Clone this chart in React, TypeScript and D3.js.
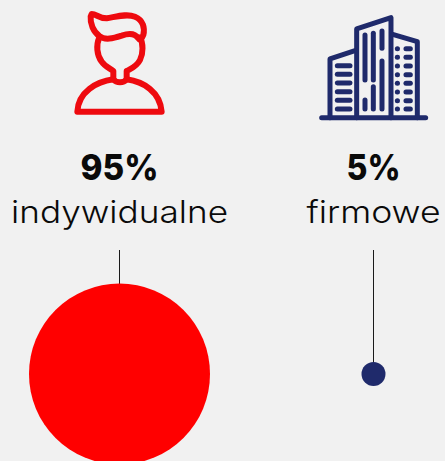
import React from 'react';
import * as d3 from 'd3';

const categories = ['indywidualne', 'firmowe'];
const shares = [95, 5];
const colors = ['#ff0000', '#1f2a6b'];
// widths of the texts in the picture, the fallback font runs narrower than the original
const labelWidths = [217, 134];
const valueWidths = [78, 54];

const width = 445;
const height = 461;
const font = 'Inter, "Noto Sans", sans-serif';

const x = d3.scalePoint<string>().domain(categories).range([119.5, 373.5]);
const r = d3.scaleLinear().domain([5, 95]).range([12, 90.5]);

const PersonIcon = () => (
  <g transform="translate(60,0) scale(0.3333)" fill="none" stroke="#ee0a0f" strokeWidth={18} strokeLinejoin="round" strokeLinecap="round">
    <path d="M95 42 C110 42 115 55 140 55 C170 50 200 40 225 50 C250 60 255 85 250 105 C245 118 240 122 235 115 C225 100 205 100 185 107 C160 115 135 122 118 108 C100 95 90 70 92 50 Z" />
    <path d="M118 112 C108 135 110 165 125 185 C135 200 150 205 160 213 L160 238 M240 112 C250 130 250 160 240 180 C230 200 215 205 200 213 L200 238" />
    <path d="M160 238 C110 245 55 275 52 335 L305 335 C300 275 250 245 200 238 C190 250 170 250 160 238 Z" />
  </g>
);

const leftFloors = [182, 208, 234, 260, 286, 312];
const rightFloors = [131, 157, 183, 209, 235, 261, 287, 312];
const windows = [
  [165, 90, 225], [165, 285, 312],
  [190, 85, 225], [190, 245, 312],
  [216, 78, 130], [216, 168, 312],
];

const BuildingIcon = () => (
  <g transform="translate(310,5) scale(0.3333)" fill="none" stroke="#1f2a6b" strokeWidth={15} strokeLinejoin="round" strokeLinecap="round">
    <path d="M35 338 L347 338" />
    <path d="M60 338 V162 L135 137" />
    <path d="M140 338 V72 L243 38 V338" />
    <path d="M248 88 L322 110 V338" />
    {leftFloors.map(y => <path key={y} d={`M82 ${y} H120`} />)}
    {windows.map(([wx, y1, y2]) => <path key={`${wx}-${y1}`} d={`M${wx} ${y1} V${y2}`} />)}
    {rightFloors.map(y => (
      <g key={y}>
        <path d={`M262 ${y} h0.5`} />
        <path d={`M288 ${y} H301`} />
      </g>
    ))}
  </g>
);

export default function App() {
  return (
    <svg width={width} height={height} style={{ position: 'absolute', left: 0, top: 0, background: '#f1f1f1' }}>
      <PersonIcon />
      <BuildingIcon />
      {categories.map((c, i) => (
        <g key={c}>
          <text x={x(c)} y={180} textAnchor="middle" fontFamily={font} fontWeight={800} fontSize={36} fill="#0a0a0a"
            textLength={valueWidths[i]} lengthAdjust="spacingAndGlyphs">
            {`${shares[i]}%`}
          </text>
          <text x={x(c)} y={223} textAnchor="middle" fontFamily={font} fontWeight={300} fontSize={31} fill="#0a0a0a"
            textLength={labelWidths[i]} lengthAdjust="spacingAndGlyphs">
            {c}
          </text>
          <line x1={x(c)} x2={x(c)} y1={250} y2={374} stroke="#1a1a1a" strokeWidth={1} />
          <circle cx={x(c)} cy={374} r={r(shares[i])} fill={colors[i]} />
        </g>
      ))}
    </svg>
  );
}
